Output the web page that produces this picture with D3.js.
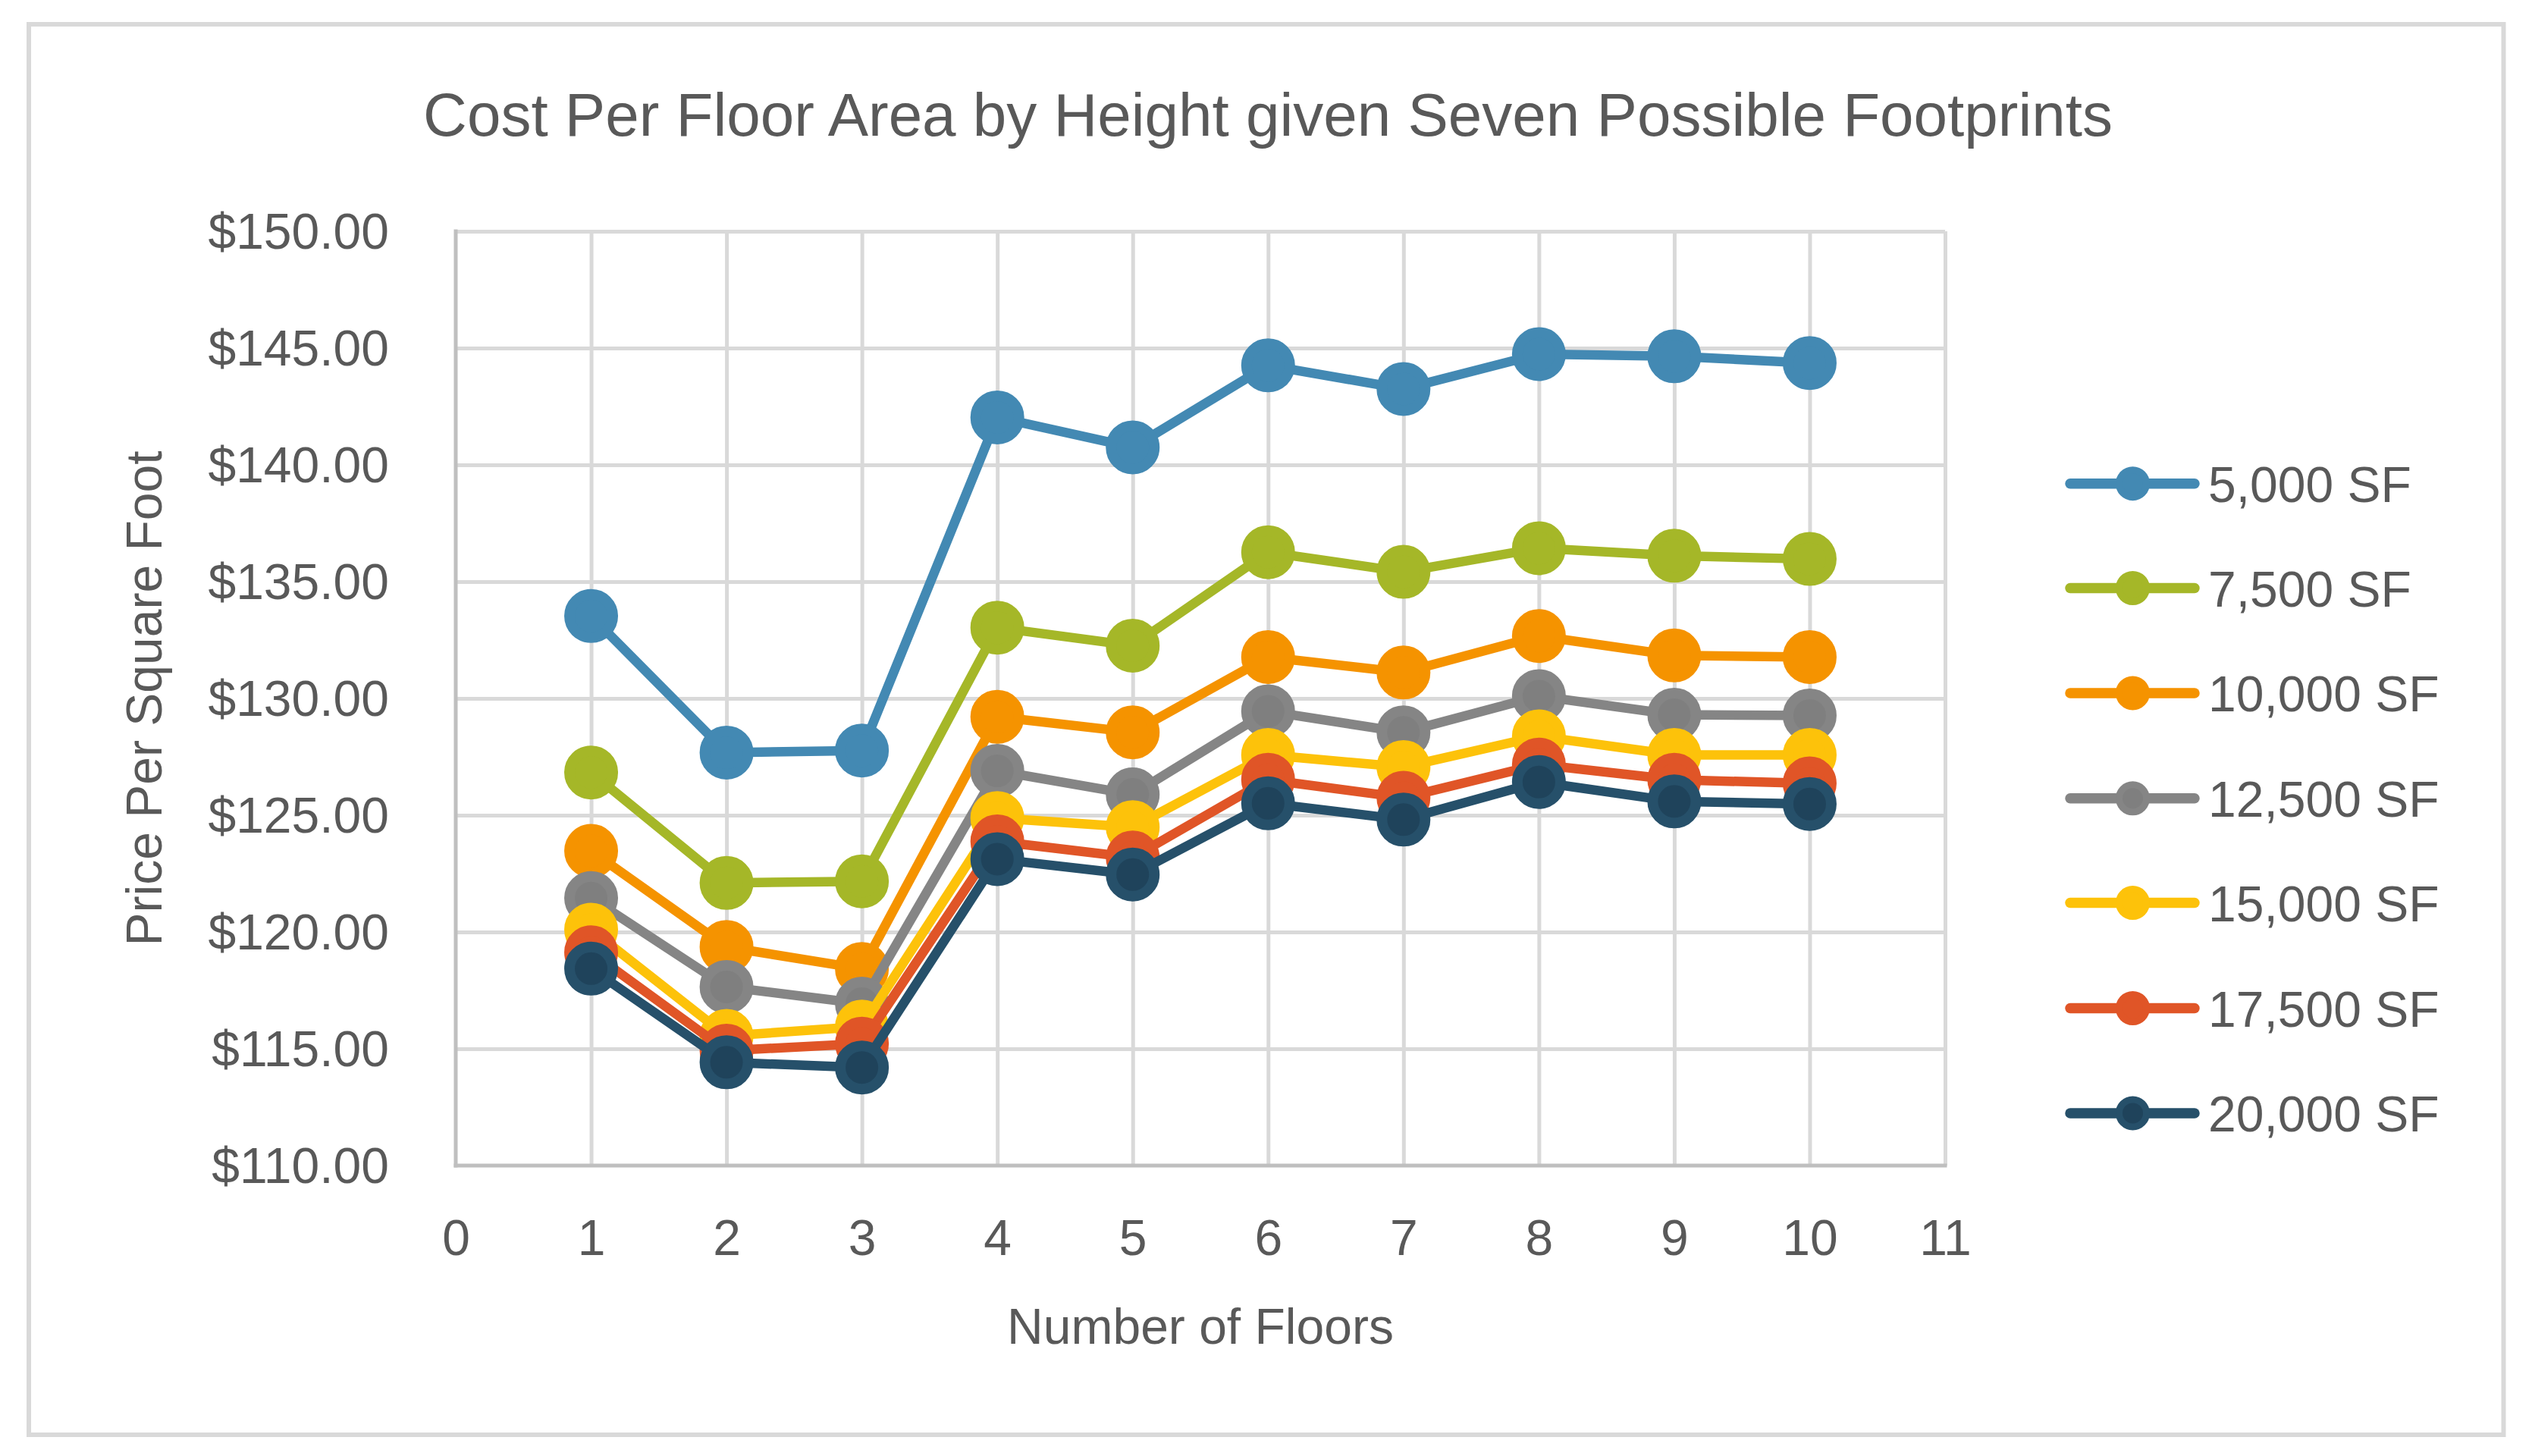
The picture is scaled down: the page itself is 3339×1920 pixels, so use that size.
<!DOCTYPE html>
<html>
<head>
<meta charset="utf-8">
<script src="https://cdn.jsdelivr.net/npm/d3@7"></script>
<style>
  html, body { margin: 0; padding: 0; background: #ffffff; }
  svg { display: block; }
  text { font-family: "Liberation Sans", Arial, sans-serif; fill: #595959; }
</style>
</head>
<body>
<svg id="chart" width="3339" height="1920"></svg>
<script>
// ---- Data ----
const floors = [1, 2, 3, 4, 5, 6, 7, 8, 9, 10];
const seriesNames = ["5,000 SF", "7,500 SF", "10,000 SF", "12,500 SF", "15,000 SF", "17,500 SF", "20,000 SF"];
const sf5000  = [133.53, 127.68, 127.77, 142.03, 140.75, 144.26, 143.25, 144.74, 144.65, 144.36];
const sf7500  = [126.83, 122.10, 122.17, 133.03, 132.26, 136.26, 135.42, 136.43, 136.11, 135.97];
const sf10000 = [123.47, 119.36, 118.42, 129.21, 128.55, 131.77, 131.11, 132.67, 131.84, 131.77];
const sf12500 = [121.45, 117.65, 116.93, 126.90, 125.89, 129.45, 128.55, 130.10, 129.30, 129.27];
const sf15000 = [120.10, 115.55, 115.95, 124.88, 124.49, 127.58, 127.06, 128.38, 127.58, 127.58];
const sf17500 = [119.13, 114.92, 115.22, 123.88, 123.19, 126.52, 125.75, 127.17, 126.52, 126.36];
const sf20000 = [118.43, 114.42, 114.20, 123.12, 122.46, 125.51, 124.81, 126.42, 125.59, 125.48];
const seriesValues = [sf5000, sf7500, sf10000, sf12500, sf15000, sf17500, sf20000];
const yTicks = [110, 115, 120, 125, 130, 135, 140, 145, 150];
const xTicks = [0, 1, 2, 3, 4, 5, 6, 7, 8, 9, 10, 11];

// ---- Styles ----
const lineColors   = ["#4389b3", "#a5b728", "#f59300", "#858585", "#fdc20a", "#e05527", "#26506a"];
const markerFill   = ["#4389b3", "#a5b728", "#f59300", "#7f7f7f", "#fdc20a", "#e05527", "#1f435b"];

const svg = d3.select("#chart");
const W = 3339, H = 1920;
const plot = { left: 601, right: 2565, top: 305, bottom: 1537 };

// outer border
svg.append("rect")
  .attr("x", 38).attr("y", 32)
  .attr("width", 3301.5 - 38).attr("height", 1892 - 32)
  .attr("fill", "#ffffff").attr("stroke", "#d9d9d9").attr("stroke-width", 6);

const x = d3.scaleLinear().domain([0, 11]).range([plot.left, plot.right]);
const y = d3.scaleLinear().domain([110, 150]).range([plot.bottom, plot.top]);

// gridlines
const gridH = svg.append("g").attr("transform", `translate(${plot.left},0)`)
  .call(d3.axisLeft(y).tickValues(yTicks.filter(v => v > 110)).tickSize(-(plot.right - plot.left)).tickFormat(""));
gridH.select(".domain").remove();
gridH.selectAll("line").attr("stroke", "#d9d9d9").attr("stroke-width", 5);

const gridV = svg.append("g").attr("transform", `translate(0,${plot.bottom})`)
  .call(d3.axisBottom(x).tickValues(xTicks.filter(v => v > 0)).tickSize(-(plot.bottom - plot.top)).tickFormat(""));
gridV.select(".domain").remove();
gridV.selectAll("line").attr("stroke", "#d9d9d9").attr("stroke-width", 5);

// axis lines
svg.append("line").attr("x1", plot.left).attr("x2", plot.left).attr("y1", plot.top - 2.5).attr("y2", plot.bottom + 2.5)
  .attr("stroke", "#bfbfbf").attr("stroke-width", 5);
svg.append("line").attr("x1", plot.left - 2.5).attr("x2", plot.right + 2.5).attr("y1", plot.bottom).attr("y2", plot.bottom)
  .attr("stroke", "#bfbfbf").attr("stroke-width", 5);

// y tick labels
const yAxis = svg.append("g").attr("transform", `translate(${plot.left},0)`)
  .call(d3.axisLeft(y).tickValues(yTicks).tickSize(0).tickPadding(88).tickFormat(d3.format("$.2f")));
yAxis.select(".domain").remove();
yAxis.selectAll("text").attr("font-size", 66).attr("fill", "#595959")
  .attr("font-family", "Liberation Sans, Arial, sans-serif").attr("dy", "0.34em");

// x tick labels
const xAxis = svg.append("g").attr("transform", `translate(0,${plot.bottom})`)
  .call(d3.axisBottom(x).tickValues(xTicks).tickSize(0).tickPadding(0).tickFormat(d3.format("d")));
xAxis.select(".domain").remove();
xAxis.selectAll("text").attr("font-size", 66).attr("fill", "#595959")
  .attr("font-family", "Liberation Sans, Arial, sans-serif").attr("y", 118).attr("dy", 0);

// title
svg.append("text").attr("x", 1672).attr("y", 179).attr("text-anchor", "middle")
  .attr("font-size", 80).text("Cost Per Floor Area by Height given Seven Possible Footprints");

// axis titles
svg.append("text").attr("x", 1583).attr("y", 1772).attr("text-anchor", "middle")
  .attr("font-size", 66).text("Number of Floors");
svg.append("text").attr("transform", "translate(213,921) rotate(-90)").attr("text-anchor", "middle")
  .attr("font-size", 66).text("Price Per Square Foot");

// series
const line = d3.line().x((d, i) => x(floors[i])).y(d => y(d));
seriesValues.forEach((vals, si) => {
  const g = svg.append("g");
  g.append("path").datum(vals).attr("d", line)
    .attr("fill", "none").attr("stroke", lineColors[si]).attr("stroke-width", 12.5)
    .attr("stroke-linejoin", "round").attr("stroke-linecap", "round");
  g.selectAll("circle").data(vals).join("circle")
    .attr("cx", (d, i) => x(floors[i])).attr("cy", d => y(d))
    .attr("r", 28.5)
    .attr("fill", markerFill[si]).attr("stroke", lineColors[si]).attr("stroke-width", 14);
});

// legend
const legendY = [637.7, 775.5, 913.9, 1052.8, 1190.6, 1329.5, 1467.9];
seriesNames.forEach((name, si) => {
  const g = svg.append("g").attr("transform", `translate(0,${legendY[si]})`);
  g.append("line").attr("x1", 2730).attr("x2", 2894).attr("y1", 0).attr("y2", 0)
    .attr("stroke", lineColors[si]).attr("stroke-width", 13.5).attr("stroke-linecap", "round");
  g.append("circle").attr("cx", 2812.5).attr("cy", 0).attr("r", 18)
    .attr("fill", markerFill[si]).attr("stroke", lineColors[si]).attr("stroke-width", 9);
  g.append("text").attr("x", 2912).attr("y", 24).attr("font-size", 66).text(name);
});
</script>
</body>
</html>
